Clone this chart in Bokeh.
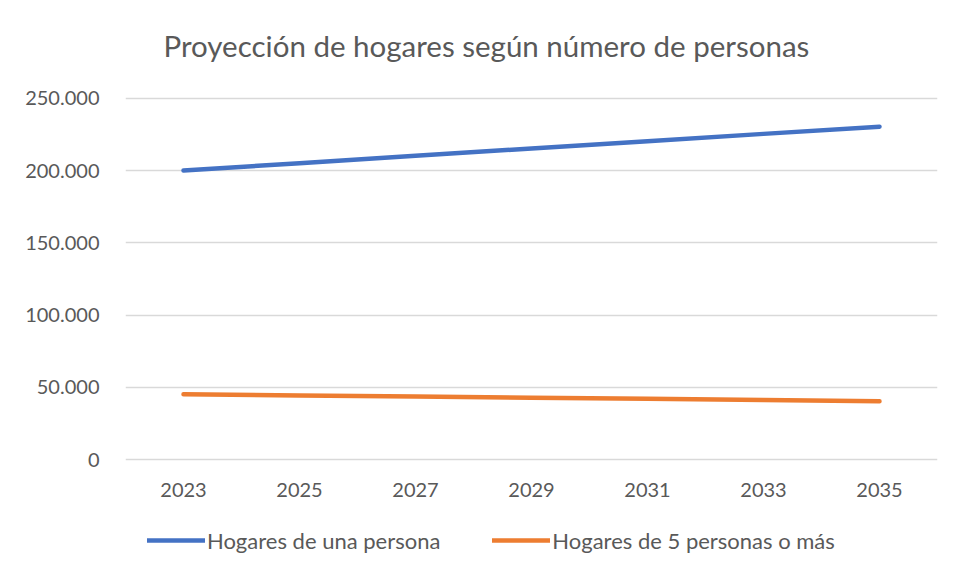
from bokeh.plotting import figure
from bokeh.models import (FactorRange, Range1d, Legend, LegendItem, FixedTicker,
                          CustomJSTickFormatter, Label, CategoricalAxis)
from bokeh.embed import file_html
from bokeh.resources import INLINE

years = ["2023", "2025", "2027", "2029", "2031", "2033", "2035"]
una_persona = [200100, 205200, 210300, 215400, 220400, 225500, 230500]
cinco_mas = [45200, 44400, 43600, 42800, 42000, 41200, 40400]
y_ticks = [0, 50000, 100000, 150000, 200000, 250000]

FONT = "Lato"
GRAY = "#595959"

# the frame covers the full height so title and legend (inside it) are not clipped;
# the range is chosen so that 0 .. 250.000 sits where the reference plot area is
p = figure(frame_width=812, frame_height=561, x_range=FactorRange(*years),
           y_range=Range1d(-70637, 317867), x_axis_location=None,
           output_backend="svg", toolbar_location=None, title=None,
           min_border_left=125, min_border_right=4, min_border_top=0, min_border_bottom=0)
p.outline_line_color = None

r1 = p.line(years, una_persona, line_color="#4472C4", line_width=4.5, line_cap="round", line_join="round")
r2 = p.line(years, cinco_mas, line_color="#ED7D31", line_width=4.5, line_cap="round", line_join="round")

xaxis = CategoricalAxis(fixed_location=0)
p.add_layout(xaxis, "below")

p.yaxis.ticker = FixedTicker(ticks=y_ticks)
p.yaxis.formatter = CustomJSTickFormatter(code="return tick == 0 ? '0' : tick.toLocaleString('en-US').replace(/,/g, '.');")
for ax in (xaxis, p.yaxis[0]):
    ax.axis_line_color = None
    ax.major_tick_line_color = None
    ax.minor_tick_line_color = None
    ax.major_label_text_font = FONT
    ax.major_label_text_font_size = "20px"
    ax.major_label_text_color = GRAY
p.yaxis.major_label_standoff = 20
xaxis.major_label_standoff = 17

p.xgrid.grid_line_color = None
p.ygrid.grid_line_color = "#d9d9d9"
p.ygrid.grid_line_width = 1.5

title = Label(x=38, y=516, x_units="screen", y_units="screen",
              text="Proyección de hogares según número de personas",
              text_font=FONT, text_font_size="29.5px", text_color=GRAY,
              text_align="left", text_baseline="alphabetic")
p.add_layout(title)

legend = Legend(items=[LegendItem(label="Hogares de una persona", renderers=[r1]),
                       LegendItem(label="Hogares de 5 personas o más", renderers=[r2])],
                orientation="horizontal", location=(22, 6),
                label_text_font=FONT, label_text_font_size="22px", label_text_color=GRAY,
                glyph_width=58, glyph_height=30, label_height=30, label_standoff=2, spacing=52,
                padding=0, margin=0, border_line_color=None, background_fill_alpha=0)
p.add_layout(legend)

open("out.html", "w").write(file_html(p, INLINE))
